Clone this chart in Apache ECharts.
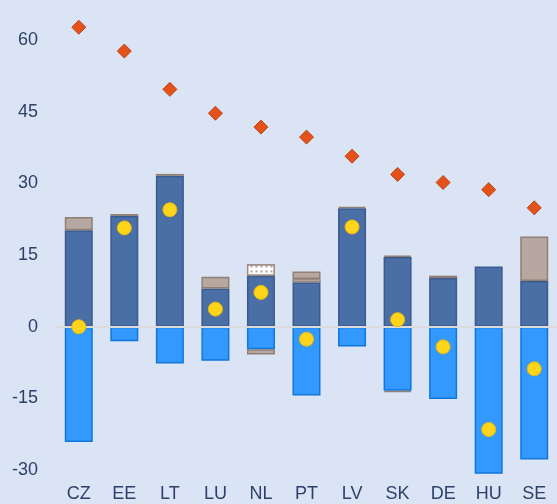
<!DOCTYPE html>
<html>
<head>
<meta charset="utf-8">
<script src="https://cdn.jsdelivr.net/npm/echarts@6/dist/echarts.min.js"></script>
<style>
  html, body { margin: 0; padding: 0; background: #dbe4f4; }
  #chart { width: 557px; height: 504px; }
</style>
</head>
<body>
<div id="chart"></div>
<script>
  var countries = ['CZ', 'EE', 'LT', 'LU', 'NL', 'PT', 'LV', 'SK', 'DE', 'HU', 'SE'];
  var darkBlue = [20.2, 23.2, 31.6, 8.0, 10.7, 9.3, 24.8, 14.6, 10.2, 12.6, 9.6];
  var brightBlue = [-24.1, -3.0, -7.7, -7.1, -4.7, -14.4, -4.1, -13.4, -15.1, -31, -27.8];
  var dotted = ['-', '-', '-', '-', 2.4, 0.7, '-', '-', '-', '-', '-'];
  var taupeUp = [2.8, 0.4, 0.4, 2.5, '-', 1.6, 0.3, 0.3, 0.5, '-', 9.3];
  var taupeDown = ['-', '-', '-', '-', -1.1, '-', '-', -0.3, '-', '-', '-'];
  var yellowDots = [0, 20.7, 24.5, 3.7, 7.2, -2.6, 20.9, 1.5, -4.2, -21.5, -8.8];
  var diamonds = [62.7, 57.7, 49.7, 44.7, 41.8, 39.7, 35.7, 31.9, 30.2, 28.7, 24.9];
  var yTicks = [-30, -15, 0, 15, 30, 45, 60];

  var labelFont = { color: '#2d3f6a', fontSize: 18, fontFamily: 'Liberation Sans' };

  function barSeries(data, fill, border){
    return {
      type: 'bar',
      stack: 'total',
      barWidth: 28,
      data: data,
      itemStyle: { color: fill, borderColor: border, borderWidth: 1.5 }
    };
  }

  var series = [
    barSeries(darkBlue, '#4a6ea6', '#3b5b8e'),
    barSeries(brightBlue, '#3399ff', '#0f76dc'),
    barSeries(dotted, '#ffffff', '#9a8a82'),
    barSeries(taupeUp, '#b6a8a0', '#8f7f77'),
    barSeries(taupeDown, '#b6a8a0', '#8f7f77')
  ];
  series[2].itemStyle.decal = {
    symbol: 'rect',
    symbolSize: 0.7,
    dashArrayX: [[3, 2]],
    dashArrayY: [3, 2],
    color: '#b6a8a0',
    backgroundColor: '#ffffff'
  };
  // zero line drawn over the bars
  series[4].markLine = {
    silent: true,
    symbol: 'none',
    label: { show: false },
    lineStyle: { color: '#dcdcdc', width: 2, type: 'solid' },
    data: [{ yAxis: 0 }]
  };
  series.push({
    type: 'scatter',
    z: 5,
    symbol: 'circle',
    symbolSize: 14,
    data: yellowDots,
    itemStyle: { color: '#ffd51c', borderColor: '#e9b90a', borderWidth: 1, opacity: 1 }
  });
  series.push({
    type: 'scatter',
    z: 5,
    symbol: 'diamond',
    symbolSize: [14, 14],
    data: diamonds,
    itemStyle: { color: '#e4521a', borderColor: '#b9461e', borderWidth: 1, opacity: 1 }
  });

  var myChart = echarts.init(document.getElementById('chart'));
  var option = {
    backgroundColor: '#dbe4f4',
    animation: false,
    grid: { left: 56, right: -5, top: 0, bottom: 31, containLabel: false },
    xAxis: {
      type: 'category',
      data: countries,
      axisLine: { show: false },
      axisTick: { show: false },
      axisLabel: Object.assign({ margin: 12 }, labelFont)
    },
    yAxis: {
      type: 'value',
      min: -30.6,
      max: 68.4,
      splitLine: { show: false },
      axisLine: { show: false },
      axisTick: { show: false },
      axisLabel: Object.assign({ margin: 18, customValues: yTicks }, labelFont)
    },
    series: series
  };
  option && myChart.setOption(option);
</script>
</body>
</html>
